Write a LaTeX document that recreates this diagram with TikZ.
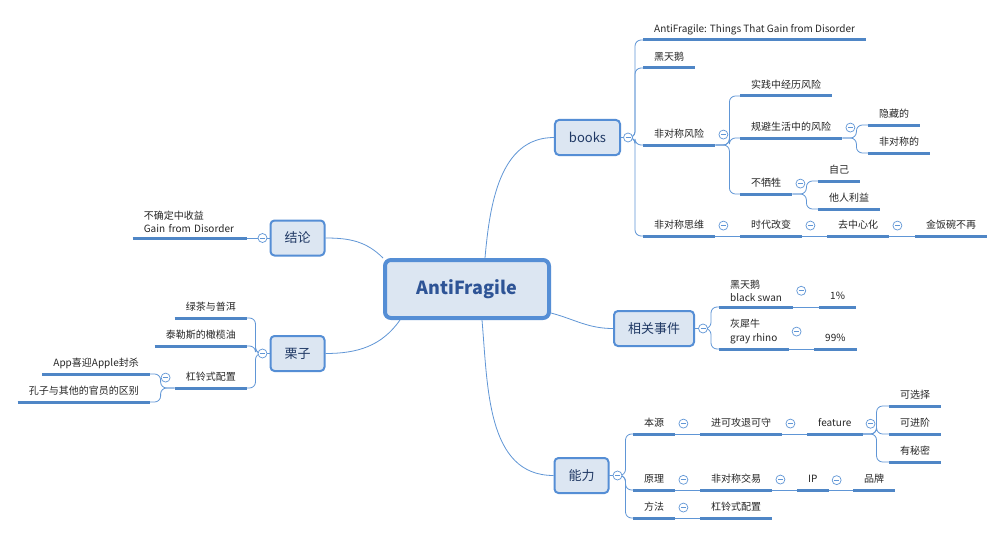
\documentclass[tikz,border=0pt]{standalone}
\usepackage{fontspec}
\setmainfont{Noto Sans CJK SC}
\definecolor{boxfill}{RGB}{220,230,242}
\definecolor{boxline}{RGB}{85,142,213}
\definecolor{linec}{RGB}{96,150,214}
\definecolor{ulinec}{RGB}{79,134,198}
\definecolor{boxtext}{RGB}{31,56,100}
\definecolor{maintext}{RGB}{46,84,150}
\begin{document}
\begin{tikzpicture}
[x=1pt,y=-1pt,
 centre/.style={draw=boxline, line width=4pt, fill=boxfill, rounded corners=6pt,
   minimum width=164pt, minimum height=58pt, text=maintext,
   font=\fontsize{18}{20}\selectfont\bfseries},
 branch/.style={draw=boxline, line width=2pt, fill=boxfill, rounded corners=4pt,
   minimum height=35pt, inner xsep=14pt, text=boxtext,
   font=\fontsize{13}{15}\selectfont},
 sub/.style={inner xsep=11pt, inner ysep=5pt, text depth=2pt, text=black!85,
   font=\fontsize{10}{12}\selectfont},
 subtwo/.style={inner xsep=11pt, inner ysep=5pt, align=left, text=black!85,
   font=\fontsize{10}{13.5}\selectfont},
 conn/.style={draw=linec, line width=0.8pt, rounded corners=6pt},
 uline/.style={draw=ulinec, line width=3pt},
 fold/.style={circle, draw=linec, line width=0.7pt, fill=white, minimum size=9pt,
   inner sep=0pt, path picture={\draw[linec, line width=0.7pt]
   ([xshift=-2.5pt]path picture bounding box.center) --
   ([xshift=2.5pt]path picture bounding box.center);}}]
\fill[white] (0,0) rectangle (1005,535);
\useasboundingbox (0,0) rectangle (1005,535);

%% main topics
\node[centre] (af) at (467,289) {AntiFragile};
\node[branch] (books) at (587.5,137.5) {books};
\node[branch] (rel) at (654,328.5) {相关事件};
\node[branch] (nl) at (581.5,475.5) {能力};
\node[branch] (jl) at (297.5,238) {结论};
\node[branch] (lz) at (297.5,353.5) {栗子};

%% right side subtopics
\foreach \n/\x/\y/\t in {bk1/643/40/AntiFragile: Things That Gain from Disorder,
  bk2/643/68/黑天鹅, bk3/643/145/非对称风险, bk31/740/96/实践中经历风险,
  bk32/740/138/规避生活中的风险, bk321/868/125/隐藏的, bk322/868/153/非对称的,
  bk33/740/194/不牺牲, bk331/818/181/自己, bk332/818/209/他人利益,
  bk4/643/236/非对称思维, bk41/740/236/时代改变, bk411/827/236/去中心化,
  bk4111/915/236/金饭碗不再, ev11/819/307/1\%, ev21/814/349/99\%,
  nl1/633/434/本源, nl11/700/434/进可攻退可守, nl111/807/434/feature,
  nl1111/889/406/可选择, nl1112/889/434/可进阶, nl1113/889/462/有秘密,
  nl2/633/490/原理, nl21/700/490/非对称交易, nl211/797/490/IP,
  nl2111/853/490/品牌, nl3/633/518/方法, nl31/700/518/杠铃式配置}
  \node[sub, anchor=south west] (\n) at (\x,\y) {\t};
\node[subtwo, anchor=south west] (ev1) at (719,307) {黑天鹅\\black swan};
\node[subtwo, anchor=south west] (ev2) at (719,349) {灰犀牛\\gray rhino};

%% left side subtopics
\foreach \n/\x/\y/\t in {lz1/247/318/绿茶与普洱, lz2/247/346/泰勒斯的橄榄油,
  lz3/247/388/杠铃式配置, lz31/150/374/App喜迎Apple封杀,
  lz32/150/402/孔子与其他的官员的区别}
  \node[sub, anchor=south east] (\n) at (\x,\y) {\t};
\node[subtwo, anchor=south east, text width=92pt, inner xsep=11pt] (jl1) at (247,238)
  {不确定中收益\\Gain from Disorder};

%% main connectors
\draw[conn] ([xshift=18pt]af.north) to[out=85,in=180] (books.west);
\draw[conn] ([yshift=-24pt]af.east) to[out=-15,in=180] (rel.west);
\draw[conn] ([xshift=15pt]af.south) to[out=-85,in=180] (nl.west);
\draw[conn] (jl.east) to[out=0,in=135] (af.north west);
\draw[conn] (lz.east) to[out=0,in=-125] ([xshift=17pt]af.south west);

%% fan-out connectors
\foreach \c in {bk1,bk2,bk3,bk4}
  \draw[conn] (books.east) -- ++(14,0) |- (\c.south west);
\foreach \c in {bk31,bk32,bk33}
  \draw[conn] (bk3.south east) -- ++(14,0) |- (\c.south west);
\foreach \c in {bk321,bk322}
  \draw[conn] (bk32.south east) -- ++(14,0) |- (\c.south west);
\foreach \c in {bk331,bk332}
  \draw[conn] (bk33.south east) -- ++(14,0) |- (\c.south west);
\foreach \c in {ev1,ev2}
  \draw[conn] (rel.east) -- ++(16,0) |- (\c.south west);
\foreach \c in {nl1,nl2,nl3}
  \draw[conn] (nl.east) -- ++(16,0) |- (\c.south west);
\foreach \c in {nl1111,nl1112,nl1113}
  \draw[conn] (nl111.south east) -- ++(14,0) |- (\c.south west);
\foreach \c in {lz1,lz2,lz3}
  \draw[conn] (lz.west) -- ++(-14,0) |- (\c.south east);
\foreach \c in {lz31,lz32}
  \draw[conn] (lz3.south west) -- ++(-14,0) |- (\c.south east);
\foreach \a/\b in {bk4/bk41, bk41/bk411, bk411/bk4111, ev1/ev11, ev2/ev21,
  nl1/nl11, nl11/nl111, nl2/nl21, nl21/nl211, nl211/nl2111, nl3/nl31}
  \draw[conn] (\a.south east) -- (\b.south west);
\draw[conn] (jl.west) -- (jl1.south east);

%% underlines
\foreach \n in {bk1,bk2,bk3,bk31,bk32,bk321,bk322,bk33,bk331,bk332,bk4,bk41,
  bk411,bk4111,ev1,ev11,ev2,ev21,nl1,nl11,nl111,nl1111,nl1112,nl1113,nl2,
  nl21,nl211,nl2111,nl3,nl31,lz1,lz2,lz3,lz31,lz32,jl1}
  \draw[uline] (\n.south west) -- (\n.south east);

%% collapse markers
\node[fold] (f-books) at ([xshift=7pt]books.east) {};
\node[fold] (f-rel) at ([xshift=8pt]rel.east) {};
\node[fold] (f-nl) at ([xshift=8pt]nl.east) {};
\node[fold] (f-jl) at ([xshift=-7pt]jl.west) {};
\node[fold] (f-lz) at ([xshift=-7pt]lz.west) {};
\node[fold] (f-lz3) at ([xshift=-9pt]lz3.west) {};
\foreach \n in {bk3,bk32,bk33,bk4,bk41,bk411,ev1,ev2,nl1,nl11,nl111,nl2,nl21,nl211,nl3}
  \node[fold] (f-\n) at ([xshift=8pt]\n.east) {};
\end{tikzpicture}
\end{document}
